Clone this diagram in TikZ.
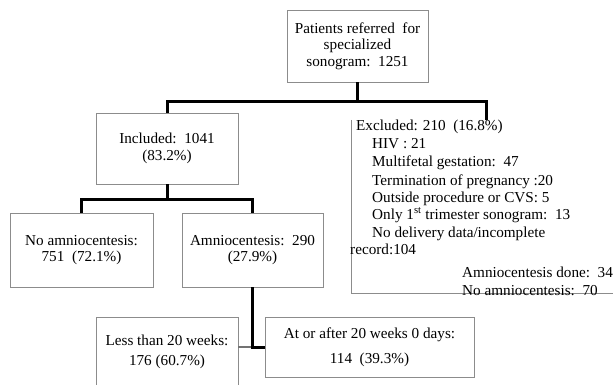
\documentclass[tikz,border=0pt]{standalone}
\usepackage{fontspec}
\setmainfont{Liberation Serif}
\begin{document}
\begin{tikzpicture}[x=1pt,y=-1pt,
  box/.style={draw=black!45, line width=0.8pt, fill=white, inner sep=0pt, align=center,
    font=\fontsize{15.2}{16.5}\selectfont},
  conn/.style={line width=3pt, black},
  stub/.style={line width=1.6pt, black!55},
  boxline/.style={draw=black!45, line width=0.8pt},
  txt/.style={anchor=base west, inner sep=0pt, font=\fontsize{15.2}{17}\selectfont}]
\useasboundingbox (0,0) rectangle (613,385);
\clip (0,0) rectangle (613,385);
% boxes
\node[box, minimum width=141, minimum height=72] (top) at (357.5,46) {Patients referred\ \ for\\specialized\\sonogram:\ \ 1251};
\node[box, minimum width=142, minimum height=71] (incl) at (167,148.5) {Included:\ \ 1041\\(83.2\%)};
\node[box, minimum width=143, minimum height=74] (noam) at (81.5,250) {No amniocentesis:\\751\ \ (72.1\%)};
\node[box, minimum width=141, minimum height=74] (amni) at (252.5,250) {Amniocentesis:\ \ 290\\(27.9\%)};
\node[box, minimum width=142, minimum height=70, font=\fontsize{15.2}{20}\selectfont] (less) at (167,352) {Less than 20 weeks:\\176 (60.7\%)};
\node[box, minimum width=209, minimum height=60, font=\fontsize{15.2}{25}\selectfont] (late) at (369.5,347) {At or after 20 weeks 0 days:\\114\ \ (39.3\%)};
% excluded box (open at top and right)
\node[inner sep=0pt, minimum width=288, minimum height=173] (excl) at (496,206.5) {};
\draw[boxline] (excl.north west) -- (excl.south west) -- (excl.south east);
\coordinate (exin) at (486,120);
% connectors
\draw[conn] (top.south) -- ++(0,19) coordinate (j1) -| (incl.north);
\draw[conn] (j1) -| (exin);
\draw[conn] (incl.south) -- ++(0,15) coordinate (j2) -| (noam.north);
\draw[conn] (j2) -| (amni.north);
\coordinate (j3) at (amni.south |- late.west);
\draw[stub] (less.east |- j3) -- (j3);
\draw[conn] (amni.south) -- (j3) -- (late.west);
% excluded text
\node[txt] (e1) at (356,131) {Excluded: 210\ \ (16.8\%)};
\node[txt] (e2) at (372,149) {HIV : 21};
\node[txt] (e3) at (372,167) {Multifetal gestation:\ \ 47};
\node[txt] (e4) at (372,185) {Termination of pregnancy :20};
\node[txt] (e5) at (372,202) {Outside procedure or CVS: 5};
\node[txt] (e6) at (372,219) {Only 1\textsuperscript{st} trimester sonogram:\ \ 13};
\node[txt] (e7) at (372,237) {No delivery data/incomplete};
\node[txt] (e8) at (350,254) {record:104};
\node[txt] (e9) at (462,277) {Amniocentesis done:\ \ 34};
\node[txt] (e10) at (462,295) {No amniocentesis:\ \ 70};
\end{tikzpicture}
\end{document}
